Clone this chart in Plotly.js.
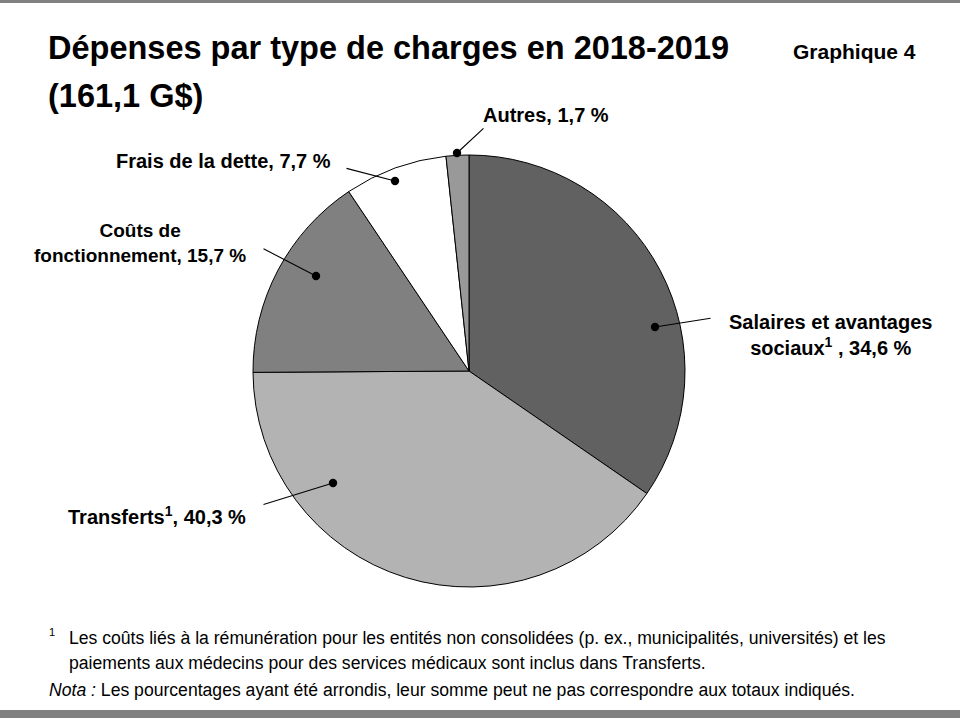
<!DOCTYPE html>
<html>
<head>
<meta charset="utf-8">
<script src="https://cdn.plot.ly/plotly-3.0.1.min.js"></script>
<style>html,body{margin:0;padding:0;background:#fff;}#chart{width:960px;height:720px;}</style>
</head>
<body>
<div id="chart"></div>
<script>
var categories = ["Salaires et avantages sociaux", "Transferts", "Coûts de fonctionnement", "Frais de la dette", "Autres"];
var values = [34.6, 40.3, 15.7, 7.7, 1.7];
var labelTexts = [
  "Salaires et avantages<br>sociaux<sup>1</sup> , 34,6 %",
  "Transferts<sup>1</sup>, 40,3 %",
  "Coûts de<br>fonctionnement, 15,7 %",
  "Frais de la dette, 7,7 %",
  "Autres, 1,7 %"
];
var sliceColors = ["#616161", "#b3b3b3", "#808080", "#ffffff", "#999999"];
var titleLines = ["Dépenses par type de charges en 2018-2019", "(161,1 G$)"];
var chartNumber = "Graphique 4";
var footnotes = [
  "Les coûts liés à la rémunération pour les entités non consolidées (p. ex., municipalités, universités) et les",
  "paiements aux médecins pour des services médicaux sont inclus dans Transferts.",
  "<i>Nota :</i> Les pourcentages ayant été arrondis, leur somme peut ne pas correspondre aux totaux indiqués."
];

var W = 960, H = 720;
function px(x){ return x / W; }
function py(y){ return 1 - y / H; }

var FONT = "'Liberation Sans Narrow', 'Arial Narrow', 'Liberation Sans', Arial, sans-serif";

// label placement (text anchor, leader line start, dot)
var labelLayout = [
  {tx: 830, ty: 335, xa: "center", ls: [712, 318], dot: [655, 327]},
  {tx: 248, ty: 515, xa: "right",  ls: [262, 505], dot: [333, 483]},
  {tx: 248, ty: 243, xa: "right",  ls: [262, 248], dot: [316, 276]},
  {tx: 333, ty: 161, xa: "right",  ls: [345, 168], dot: [395, 181]},
  {tx: 546, ty: 115, xa: "center", ls: [485, 127], dot: [457, 153]}
];

var annotations = [];
labelTexts.forEach(function(t, i){
  var L = labelLayout[i];
  annotations.push({
    xref: "paper", yref: "paper", x: px(L.tx), y: py(L.ty),
    xanchor: L.xa, yanchor: "middle", align: "center",
    text: t, showarrow: false,
    font: {family: FONT, size: (i === 2 ? 19 : 20), color: "#000", weight: "bold"}
  });
  annotations.push({
    xref: "paper", yref: "paper", x: px(L.dot[0]), y: py(L.dot[1]),
    ax: L.ls[0] - L.dot[0], ay: L.ls[1] - L.dot[1],
    text: "", showarrow: true, arrowhead: 6, arrowsize: 1.9, arrowwidth: 1.1,
    arrowcolor: "#000", standoff: 0
  });
});

// titles
annotations.push({
  xref: "paper", yref: "paper", x: px(46), y: py(48), xanchor: "left", yanchor: "middle", align: "left",
  text: titleLines[0], showarrow: false,
  font: {family: FONT, size: 32.5, color: "#000", weight: "bold"}
});
annotations.push({
  xref: "paper", yref: "paper", x: px(46), y: py(96), xanchor: "left", yanchor: "middle", align: "left",
  text: titleLines[1], showarrow: false,
  font: {family: FONT, size: 32.5, color: "#000", weight: "bold"}
});
annotations.push({
  xref: "paper", yref: "paper", x: px(918), y: py(52), xanchor: "right", yanchor: "middle",
  text: chartNumber, showarrow: false,
  font: {family: FONT, size: 21, color: "#000", weight: "bold"}
});

// footnotes
var fnFont = {family: FONT, size: 17.6, color: "#000"};
annotations.push({xref:"paper", yref:"paper", x: px(47), y: py(632), xanchor:"left", yanchor:"middle",
  text:"1", showarrow:false, font:{family: FONT, size: 11, color:"#000"}});
annotations.push({xref:"paper", yref:"paper", x: px(67), y: py(638), xanchor:"left", yanchor:"middle",
  text: footnotes[0], showarrow:false, font: fnFont});
annotations.push({xref:"paper", yref:"paper", x: px(67), y: py(663), xanchor:"left", yanchor:"middle",
  text: footnotes[1], showarrow:false, font: fnFont});
annotations.push({xref:"paper", yref:"paper", x: px(47), y: py(690), xanchor:"left", yanchor:"middle",
  text: footnotes[2], showarrow:false, font: fnFont});

var trace = {
  type: "pie",
  labels: categories,
  values: values,
  sort: false,
  direction: "clockwise",
  rotation: 0,
  textinfo: "none",
  hoverinfo: "label+percent",
  marker: {colors: sliceColors, line: {color: "#000", width: 1}},
  domain: {x: [px(253), px(685)], y: [py(587), py(155)]}
};

var layout = {
  width: W, height: H,
  margin: {l: 0, r: 0, t: 0, b: 0},
  paper_bgcolor: "#fff",
  showlegend: false,
  annotations: annotations,
  shapes: [
    {type: "rect", xref: "paper", yref: "paper", x0: 0, x1: 1, y0: py(3), y1: 1, fillcolor: "#808080", line: {width: 0}},
    {type: "rect", xref: "paper", yref: "paper", x0: 0, x1: 1, y0: py(718), y1: py(710), fillcolor: "#808080", line: {width: 0}}
  ]
};

Plotly.newPlot("chart", [trace], layout, {displayModeBar: false, staticPlot: true});
</script>
</body>
</html>
